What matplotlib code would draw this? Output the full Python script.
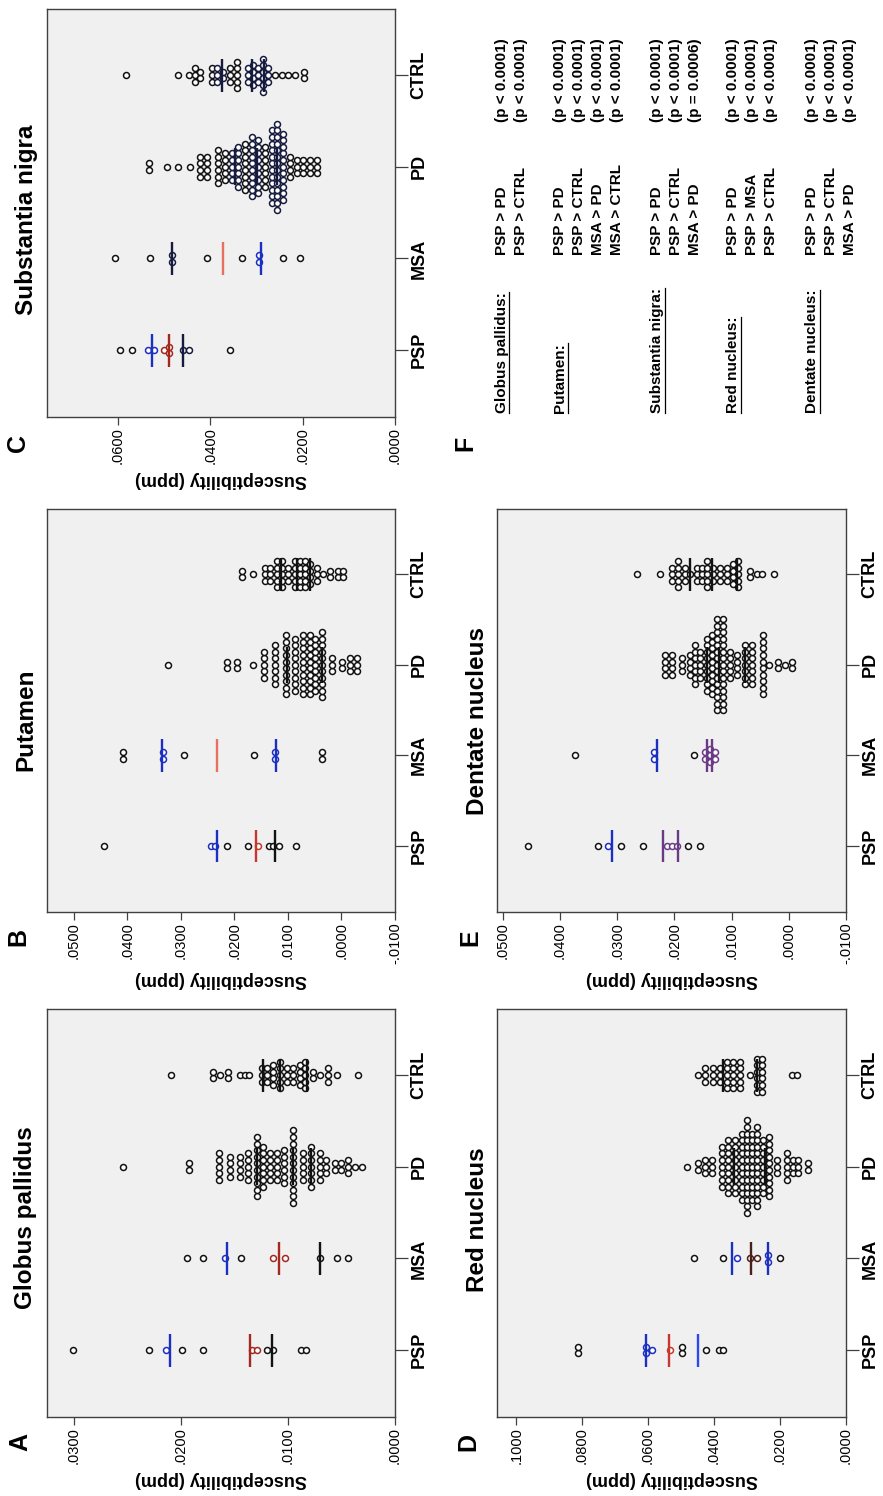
import matplotlib
matplotlib.use("Agg")
import matplotlib.pyplot as plt
from matplotlib.lines import Line2D
from matplotlib.ticker import FixedLocator, FuncFormatter

plt.rcParams['font.family'] = ['Liberation Sans', 'DejaVu Sans']

groups = ['PSP', 'MSA', 'PD', 'CTRL']

# susceptibility values (ppm) per group: column value + number of stacked dots
# order of each list: PSP, MSA, PD, CTRL

# globus pallidus
gp_vals = [
    [.0301, .0230, .0214, .0199, .0179, .0134, .0129, .0120, .0114, .0088, .0083],
    [.0194, .0179, .0159, .0144, .0114, .0103, .0070, .0054, .0044],
    [.0254, .0192, .0164, .0154, .0145, .0137, .0129, .0123, .0117, .0110, .0104,
     .0095, .0086, .0078, .0070, .0064, .0056, .0050, .0044, .0037, .0031],
    [.0209, .0170, .0163, .0156, .0145, .0140, .0136, .0124, .0120, .0114, .0107,
     .0101, .0095, .0089, .0084, .0077, .0070, .0063, .0054, .0035],
]
gp_counts = [
    [1] * 11,
    [1] * 9,
    [1, 2, 5, 4, 4, 5, 10, 7, 5, 5, 6, 12, 5, 7, 5, 3, 2, 2, 3, 1, 1],
    [1, 2, 1, 2, 1, 1, 1, 3, 3, 4, 5, 3, 3, 4, 5, 2, 1, 3, 1, 1],
]
gp_means = [[.0210, .0135, .0115], [.0157, .0108, .0070],
            [.0129, .0095, .0078], [.0123, .0107, .0082]]

# putamen
pu_vals = [
    [.0444, .0244, .0236, .0214, .0175, .0156, .0136, .0127, .0117, .0085],
    [.0408, .0334, .0294, .0164, .0124, .0036],
    [.0324, .0214, .0195, .0165, .0145, .0124, .0104, .0087, .0072, .0059, .0050,
     .0036, .0018, -.0001, -.0016, -.0029],
    [.0186, .0165, .0143, .0134, .0121, .0111, .0100, .0087, .0078, .0068, .0059,
     .0046, .0035, .0021, .0007, -.0002],
]
pu_counts = [
    [1] * 10,
    [2, 2, 1, 1, 2, 2],
    [1, 2, 2, 1, 5, 7, 10, 9, 10, 10, 9, 11, 3, 2, 3, 3],
    [2, 1, 3, 3, 5, 5, 3, 5, 5, 5, 4, 3, 1, 2, 2, 2],
]
pu_means = [[.0233, .0160, .0125], [.0336, .0232, .0123],
            [.0102, .0037], [.0113, .0083, .0058]]

# substantia nigra
sn_vals = [
    [.0596, .0570, .0535, .0522, .0501, .0490, .0459, .0446, .0358],
    [.0607, .0531, .0483, .0407, .0332, .0295, .0243, .0206],
    [.0533, .0494, .0470, .0444, .0423, .0407, .0384, .0368, .0353, .0340, .0325,
     .0310, .0297, .0282, .0267, .0256, .0243, .0228, .0212, .0199, .0184, .0169],
    [.0583, .0470, .0446, .0433, .0423, .0397, .0386, .0373, .0358, .0342, .0319,
     .0308, .0297, .0286, .0275, .0260, .0245, .0232, .0217, .0197],
]
sn_counts = [
    [1, 1, 1, 1, 1, 2, 1, 1, 1],
    [1, 1, 2, 1, 1, 2, 1, 1],
    [2, 1, 1, 1, 4, 4, 6, 5, 5, 7, 8, 10, 9, 7, 12, 14, 11, 4, 3, 3, 3, 3],
    [1, 1, 1, 3, 2, 3, 3, 2, 3, 5, 3, 4, 3, 6, 3, 1, 1, 1, 1, 2],
]
sn_means = [[.0527, .0490, .0459], [.0483, .0373, .0290],
            [.0347, .0299, .0256], [.0375, .0310, .0284]]

# red nucleus
rn_vals = [
    [.0812, .0606, .0588, .0533, .0497, .0425, .0385, .0373],
    [.0461, .0373, .0330, .0291, .0270, .0236, .0200],
    [.0482, .0448, .0427, .0406, .0376, .0358, .0336, .0315, .0300, .0285, .0270,
     .0252, .0233, .0209, .0179, .0161, .0145, .0115],
    [.0448, .0427, .0403, .0382, .0361, .0342, .0321, .0291, .0270, .0255, .0164, .0148],
]
rn_counts = [
    [2, 2, 1, 1, 2, 1, 1, 1],
    [1, 1, 1, 1, 1, 2, 1],
    [1, 2, 3, 3, 7, 9, 9, 11, 15, 11, 13, 9, 10, 3, 5, 3, 3, 2],
    [1, 3, 3, 3, 5, 5, 5, 1, 6, 6, 1, 1],
]
rn_means = [[.0606, .0536, .0448], [.0345, .0288, .0236],
            [.0340, .0245], [.0373, .0270]]

# dentate nucleus
dn_vals = [
    [.0455, .0334, .0316, .0294, .0255, .0213, .0204, .0196, .0176, .0155],
    [.0374, .0236, .0166, .0147, .0138, .0129],
    [.0217, .0204, .0187, .0173, .0164, .0155, .0143, .0134, .0126, .0115, .0103,
     .0091, .0077, .0064, .0045, .0035, .0019, .0007, -.0006],
    [.0266, .0225, .0204, .0194, .0182, .0173, .0161, .0152, .0143, .0133, .0120,
     .0108, .0098, .0089, .0068, .0056, .0047, .0026],
]
dn_counts = [
    [1] * 10,
    [1, 2, 1, 2, 3, 2],
    [4, 4, 3, 4, 7, 5, 9, 10, 15, 15, 5, 4, 7, 7, 10, 1, 2, 1, 2],
    [1, 1, 3, 5, 3, 1, 3, 3, 5, 3, 3, 3, 4, 5, 2, 1, 1, 1],
]
dn_means = [[.0309, .0220, .0194], [.0231, .0143, .0135],
            [.0143, .0122, .0077], [.0173, .0134, .0091]]

# pairwise comparisons listed in panel F
f_regions = ['Globus pallidus:', 'Putamen:', 'Substantia nigra:', 'Red nucleus:',
             'Dentate nucleus:']
f_tests = [
    ['PSP > PD', 'PSP > CTRL'],
    ['PSP > PD', 'PSP > CTRL', 'MSA > PD', 'MSA > CTRL'],
    ['PSP > PD', 'PSP > CTRL', 'MSA > PD'],
    ['PSP > PD', 'PSP > MSA', 'PSP > CTRL'],
    ['PSP > PD', 'PSP > CTRL', 'MSA > PD'],
]
f_pvals = [
    ['(p < 0.0001)', '(p < 0.0001)'],
    ['(p < 0.0001)', '(p < 0.0001)', '(p < 0.0001)', '(p < 0.0001)'],
    ['(p < 0.0001)', '(p < 0.0001)', '(p = 0.0006)'],
    ['(p < 0.0001)', '(p < 0.0001)', '(p < 0.0001)'],
    ['(p < 0.0001)', '(p < 0.0001)', '(p < 0.0001)'],
]

# colours of the reference lines
BLUE = '#1b2fc0'
DRED = '#a3281f'
RED = '#c8372d'
SALMON = '#e7705f'
BLK = '#121212'
NAVY = '#161b3e'
BROWN = '#4a1f1c'
PURPLE = '#6b3a86'
LBLUE = '#2a48ee'

W, H = 883, 1496
fig = plt.figure(figsize=(W / 100, H / 100), dpi=100)
fig.patch.set_facecolor('white')


def fmt(v, pos=None):
    return f"{v:.4f}".replace("0.", ".", 1)


def rect(x0, y0, x1, y1):
    return [x0 / W, 1 - y1 / H, (x1 - x0) / W, (y1 - y0) / H]


def panel(box, vals, counts, means, cols, xlim, ticks, title, title_xy):
    ax = fig.add_axes(rect(*box))
    ax.set_facecolor('#f0f0f0')
    ax.set_xlim(*xlim)
    ax.set_ylim(0.27, 4.72)
    px_per_unit = ax.bbox.width / abs(xlim[0] - xlim[1])
    step = 0.072
    for g in range(4):
        pos = g + 1
        half = 0.2 if g == 2 else 0.18
        for m, c in zip(means[g], cols[g]):
            ax.plot([m, m], [pos - half, pos + half], color=c, lw=1.7, zorder=4,
                    solid_capstyle='butt')
        for v, n in zip(vals[g], counts[g]):
            # colour a dot like the reference line it sits on
            near = min(range(len(means[g])), key=lambda k: abs(means[g][k] - v))
            ec = BLK
            if abs(means[g][near] - v) * px_per_unit < 6.5:
                ec = cols[g][near]
            for i in range(n):
                y = pos + (i - (n - 1) / 2) * step
                ax.plot(v, y, 'o', ms=4.3, mfc='white', mec=ec, mew=1.1, zorder=3)
    for s in ax.spines.values():
        s.set_color('#404040')
        s.set_linewidth(1.0)
    ax.xaxis.set_major_locator(FixedLocator(ticks))
    ax.xaxis.set_major_formatter(FuncFormatter(fmt))
    ax.tick_params(axis='x', direction='out', length=6, width=0.9, color='#404040',
                   labelsize=10.5, labelrotation=90, pad=1.5)
    ax.set_yticks([1, 2, 3, 4])
    ax.set_yticklabels(groups, rotation=90, va='center', fontsize=13,
                       fontweight='bold')
    ax.tick_params(axis='y', left=False, right=True, labelleft=False,
                   labelright=True, length=9, width=0.9, color='#404040', pad=2)
    ax.set_xlabel('Susceptibility (ppm)', rotation=180, fontsize=13,
                  fontweight='bold', labelpad=5)
    ax.text(title_xy[0], title_xy[1], title, transform=ax.transAxes, rotation=90,
            ha='center', va='center', fontsize=17.5, fontweight='bold')
    return ax


panel((47, 1009, 395, 1417), gp_vals, gp_counts, gp_means,
      [[BLUE, DRED, BLK], [BLUE, DRED, BLK], [BLK] * 3, [BLK] * 3],
      (0.0325, 0.0), [0, .01, .02, .03], 'Globus pallidus', (-0.063, 0.488))
panel((47, 509, 395, 912), pu_vals, pu_counts, pu_means,
      [[BLUE, RED, BLK], [BLUE, SALMON, BLUE], [BLK] * 2, [BLK] * 3],
      (0.0550, -0.01), [-.01, 0, .01, .02, .03, .04, .05], 'Putamen', (-0.06, 0.476))
panel((47, 9, 395, 417), sn_vals, sn_counts, sn_means,
      [[BLUE, DRED, NAVY], [NAVY, SALMON, BLUE], [NAVY] * 3, [NAVY] * 3],
      (0.0754, 0.0), [0, .02, .04, .06], 'Substantia nigra', (-0.06, 0.483))
panel((497, 1009, 846, 1417), rn_vals, rn_counts, rn_means,
      [[BLUE, RED, LBLUE], [BLUE, BROWN, BLUE], [BLK] * 2, [BLK] * 2],
      (0.1058, 0.0), [0, .02, .04, .06, .08, .10], 'Red nucleus', (-0.057, 0.483))
panel((497, 509, 846, 912), dn_vals, dn_counts, dn_means,
      [[BLUE, PURPLE, PURPLE], [BLUE, PURPLE, PURPLE], [BLK] * 3, [BLK] * 3],
      (0.0510, -0.01), [-.01, 0, .01, .02, .03, .04, .05], 'Dentate nucleus',
      (-0.057, 0.474))

# panel letters
for letter, (lx, ly) in zip('ABCDEF', [(20, 1442), (18, 937), (18, 443),
                                        (468, 1442), (470, 938), (465, 443)]):
    fig.text(lx / W, 1 - ly / H, letter, rotation=90, ha='center', va='center',
             fontsize=18, fontweight='bold')

# panel F: significant differences
block_x = [502, 560, 657, 733, 812]
heads = []
for bx, region, tests, pvals in zip(block_x, f_regions, f_tests, f_pvals):
    t = fig.text(bx / W, 1 - 413 / H, region, rotation=90, ha='center',
                 va='bottom', fontsize=11, fontweight='bold')
    heads.append(t)
    for k, (cmp, p) in enumerate(zip(tests, pvals)):
        x = (bx + 19 * k) / W
        fig.text(x, 1 - 255 / H, cmp, rotation=90, ha='center', va='bottom',
                 fontsize=11, fontweight='bold')
        fig.text(x, 1 - 122 / H, p, rotation=90, ha='center', va='bottom',
                 fontsize=11, fontweight='bold')

fig.canvas.draw()
for t in heads:
    bb = t.get_window_extent()
    fig.add_artist(Line2D([(bb.x1 + 0.5) / W] * 2, [bb.y0 / H, bb.y1 / H],
                          transform=fig.transFigure, color='black', lw=0.9))

fig.savefig('out.png', dpi=100)
